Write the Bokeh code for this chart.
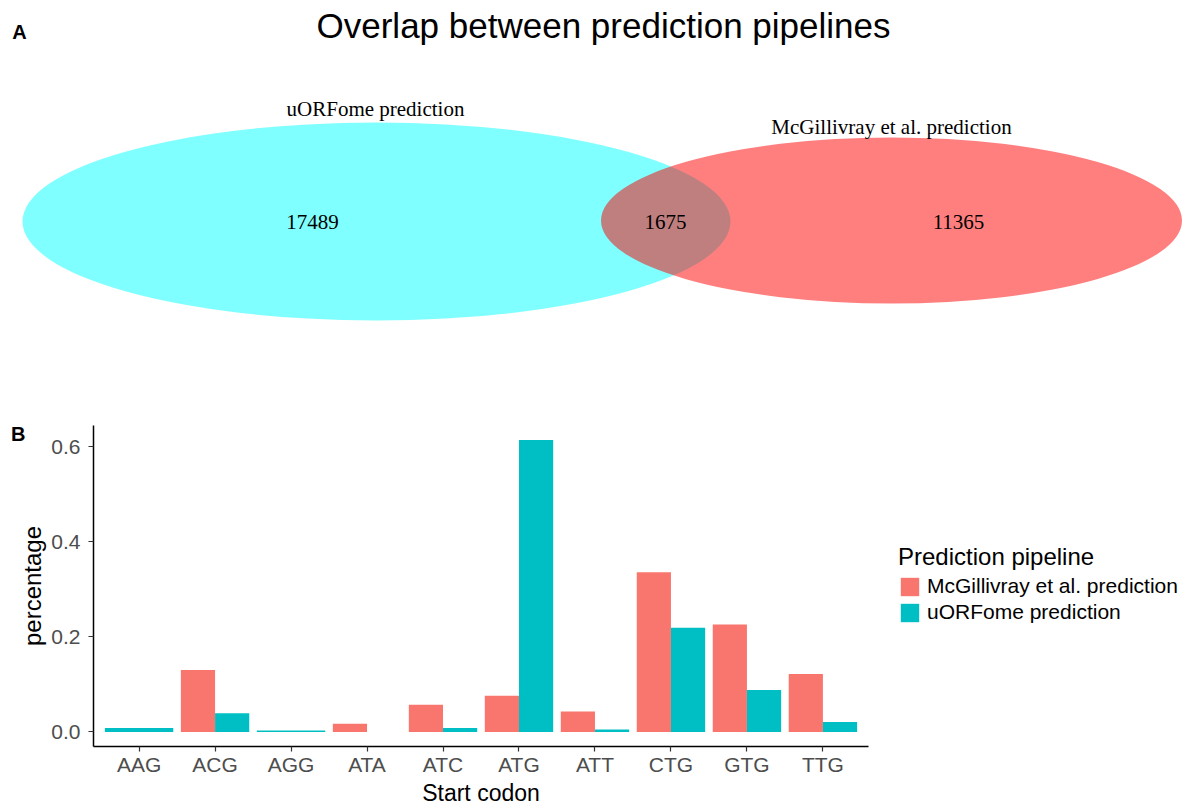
from bokeh.plotting import figure
from bokeh.models import (Range1d, FixedTicker, Legend, LegendItem, LinearAxis,
                          ColumnDataSource, PrintfTickFormatter)
from bokeh.core.properties import value
from bokeh.embed import file_html
from bokeh.resources import INLINE

# ---------------- Panel A data (Venn) ----------------
set_names = ["uORFome prediction", "McGillivray et al. prediction"]
only_counts = [17489, 11365]
overlap_count = 1675

# ---------------- Panel B data (bars) ----------------
codons = ["AAG", "ACG", "AGG", "ATA", "ATC", "ATG", "ATT", "CTG", "GTG", "TTG"]
pipelines = ["McGillivray et al. prediction", "uORFome prediction"]
mcgillivray_pct = [None, 0.130, None, 0.017, 0.057, 0.076, 0.043, 0.336, 0.226, 0.122]
uorfome_pct = [0.008, 0.039, 0.003, 0.0, 0.008, 0.614, 0.005, 0.219, 0.088, 0.021]

# ---------------- layout / style ----------------
W = 1190
HT = 400
HB = 808 - HT
SANS = "Liberation Sans"
SERIF = "Liberation Serif"
bar_colors = ["#F8766D", "#00BFC4"]
venn_colors = ["#00FFFF", "#FF0000"]

# Venn geometry (picture pixel coordinates)
venn_cx = [376, 891]
venn_cy = [221, 220]
venn_w = [708, 581]
venn_h = [198, 166]
set_label_xy = [(375, 108), (891, 126)]
count_xy = [(312, 221), (665, 221), (958, 221)]

pa = figure(width=W, height=HT, x_range=Range1d(0, W), y_range=Range1d(HT, 0),
            output_backend="svg", toolbar_location=None, min_border=0,
            x_axis_location=None, y_axis_location=None, outline_line_color=None)
pa.grid.visible = False

pa.ellipse(x=venn_cx, y=venn_cy, width=venn_w, height=venn_h,
           fill_color=venn_colors, fill_alpha=0.5, line_color=None)

pa.text(x=[p[0] for p in set_label_xy], y=[p[1] for p in set_label_xy], text=set_names,
        text_font=value(SERIF), text_font_size="21px", text_align="center",
        text_baseline="middle", text_color="black")
count_texts = [str(only_counts[0]), str(overlap_count), str(only_counts[1])]
pa.text(x=[p[0] for p in count_xy], y=[p[1] for p in count_xy], text=count_texts,
        text_font=value(SERIF), text_font_size="21px", text_align="center",
        text_baseline="middle", text_color="black")
pa.text(x=[603], y=[25], text=["Overlap between prediction pipelines"],
        text_font=value(SANS), text_font_size="35px", text_align="center",
        text_baseline="middle", text_color="black")
pa.text(x=[19], y=[31], text=["A"], text_font=value(SANS), text_font_size="20px",
        text_font_style="bold", text_align="center", text_baseline="middle",
        text_color="black")

# ---------------- Panel B ----------------
n = len(codons)
all_vals = [v for v in mcgillivray_pct + uorfome_pct if v is not None]
ymax = max(all_vals)
pad = 0.05 * ymax
y0, y1 = -pad, ymax + pad

# plotting panel spans 775 px of the frame; the rest on the right holds the legend
LEFT = 93
PANEL_W = 775
x0, x1 = 0.4, n + 0.6
x_end = x0 + (x1 - x0) * (W - LEFT) / PANEL_W

pb = figure(width=W, height=HB, x_range=Range1d(x0, x_end),
            y_range=Range1d(y0, y1),
            output_backend="svg", toolbar_location=None,
            min_border_left=LEFT, min_border_right=0, min_border_top=25,
            min_border_bottom=61, outline_line_color=None)
pb.grid.visible = False

series = [mcgillivray_pct, uorfome_pct]
group_data = [dict(x=[], top=[], w=[]) for _ in series]
for i in range(n):
    present = [k for k in range(len(series)) if series[k][i] is not None]
    wslot = 0.9 / len(present)
    for j, k in enumerate(present):
        group_data[k]["x"].append(i + 1 - 0.45 + wslot * (j + 0.5))
        group_data[k]["top"].append(series[k][i])
        group_data[k]["w"].append(wslot)

renderers = []
for k in range(len(series)):
    src = ColumnDataSource(group_data[k])
    r = pb.vbar(x="x", top="top", bottom=0, width="w", source=src,
                fill_color=bar_colors[k], line_color=None)
    renderers.append(r)

pb.xaxis.ticker = FixedTicker(ticks=list(range(1, n + 1)))
pb.xaxis.major_label_overrides = {i + 1: c for i, c in enumerate(codons)}
pb.xaxis.bounds = (x0, x1)
pb.yaxis.ticker = FixedTicker(ticks=[0.0, 0.2, 0.4, 0.6])
pb.yaxis.formatter = PrintfTickFormatter(format="%.1f")
pb.yaxis.axis_label = "percentage"

for ax in (pb.xaxis, pb.yaxis):
    ax.axis_line_color = "black"
    ax.axis_line_width = 1.5
    ax.major_tick_line_color = "#333333"
    ax.major_tick_line_width = 1.2
    ax.major_tick_in = 0
    ax.major_tick_out = 5
    ax.minor_tick_line_color = None
    ax.major_label_text_font = SANS
    ax.major_label_text_font_size = "21px"
    ax.major_label_text_color = "#4D4D4D"
    ax.axis_label_text_font = SANS
    ax.axis_label_text_font_size = "24px"
    ax.axis_label_text_font_style = "normal"
    ax.axis_label_text_color = "black"
pb.xaxis.major_label_standoff = 1
pb.yaxis.major_label_standoff = 8
pb.yaxis.axis_label_standoff = 2

# x-axis title, centred under the category panel (not under the whole frame)
xtitle_axis = LinearAxis(ticker=FixedTicker(ticks=[(x0 + x1) / 2]),
                         major_label_overrides={(x0 + x1) / 2: "Start codon"},
                         axis_line_color=None, major_tick_line_color=None,
                         minor_tick_line_color=None, major_tick_in=0, major_tick_out=0,
                         major_label_standoff=1, major_label_text_font=SANS,
                         major_label_text_font_size="23px",
                         major_label_text_color="black")
pb.add_layout(xtitle_axis, "below")

# panel tag "B": an outer, line-less left axis carrying a single labelled tick
tag_y = y1 - 8 / 321 * (y1 - y0)
tag_axis = LinearAxis(ticker=FixedTicker(ticks=[tag_y]),
                      major_label_overrides={tag_y: "B"},
                      axis_line_color=None, major_tick_line_color=None,
                      minor_tick_line_color=None, major_tick_in=0, major_tick_out=0,
                      major_label_standoff=-9, major_label_text_font=SANS,
                      major_label_text_font_size="20px",
                      major_label_text_font_style="bold",
                      major_label_text_color="black")
pb.add_layout(tag_axis, "left")

legend = Legend(items=[LegendItem(label=pipelines[k], renderers=[renderers[k]])
                       for k in range(len(series))],
                location=(898 - LEFT, 122), title="Prediction pipeline",
                title_text_font=SANS, title_text_font_size="24px",
                title_text_font_style="normal", title_text_color="black",
                title_standoff=3,
                label_text_font=SANS, label_text_font_size="21px",
                label_text_color="black", glyph_width=23, glyph_height=23,
                label_height=23, label_standoff=6, spacing=2, padding=0, margin=0,
                border_line_color=None, background_fill_alpha=0)
pb.add_layout(legend, "center")

open("out.html", "w").write(file_html([pa, pb], INLINE))
